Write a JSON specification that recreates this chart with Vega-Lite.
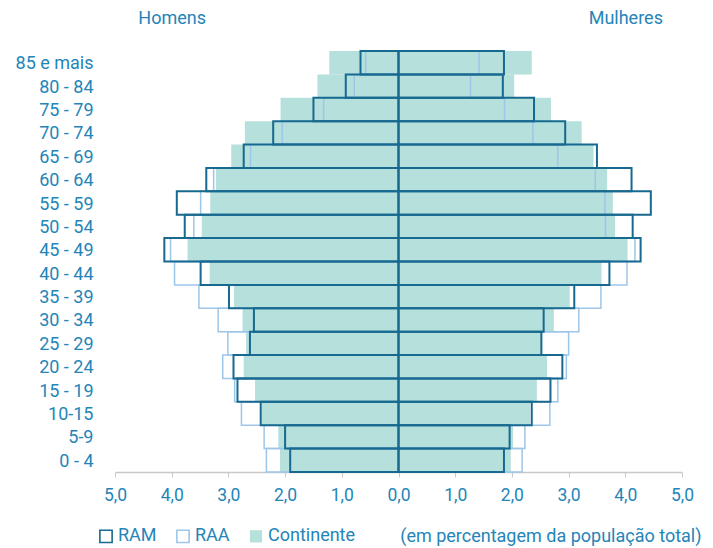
{
  "$schema": "https://vega.github.io/schema/vega-lite/v6.json",
  "width": 567,
  "height": 421,
  "autosize": {"type": "none"},
  "padding": {"left": 115, "top": 51, "right": 31, "bottom": 76},
  "background": "white",
  "config": {
    "font": "Roboto",
    "view": {"stroke": null},
    "axis": {"labelColor": "#2485b8", "titleColor": "#2485b8", "grid": false}
  },
  "data": {
    "values": [
      {"age": "85 e mais", "sexo": "Homens", "Continente": -1.22, "RAA": -0.58, "RAM": -0.67},
      {"age": "80 - 84", "sexo": "Homens", "Continente": -1.43, "RAA": -0.78, "RAM": -0.93},
      {"age": "75 - 79", "sexo": "Homens", "Continente": -2.08, "RAA": -1.32, "RAM": -1.50},
      {"age": "70 - 74", "sexo": "Homens", "Continente": -2.71, "RAA": -2.05, "RAM": -2.21},
      {"age": "65 - 69", "sexo": "Homens", "Continente": -2.95, "RAA": -2.61, "RAM": -2.73},
      {"age": "60 - 64", "sexo": "Homens", "Continente": -3.22, "RAA": -3.26, "RAM": -3.39},
      {"age": "55 - 59", "sexo": "Homens", "Continente": -3.32, "RAA": -3.49, "RAM": -3.91},
      {"age": "50 - 54", "sexo": "Homens", "Continente": -3.47, "RAA": -3.61, "RAM": -3.77},
      {"age": "45 - 49", "sexo": "Homens", "Continente": -3.72, "RAA": -4.02, "RAM": -4.13},
      {"age": "40 - 44", "sexo": "Homens", "Continente": -3.33, "RAA": -3.95, "RAM": -3.49},
      {"age": "35 - 39", "sexo": "Homens", "Continente": -2.90, "RAA": -3.52, "RAM": -2.99},
      {"age": "30 - 34", "sexo": "Homens", "Continente": -2.75, "RAA": -3.18, "RAM": -2.55},
      {"age": "25 - 29", "sexo": "Homens", "Continente": -2.69, "RAA": -3.01, "RAM": -2.62},
      {"age": "20 - 24", "sexo": "Homens", "Continente": -2.73, "RAA": -3.10, "RAM": -2.91},
      {"age": "15 - 19", "sexo": "Homens", "Continente": -2.53, "RAA": -2.89, "RAM": -2.84},
      {"age": "10-15", "sexo": "Homens", "Continente": -2.41, "RAA": -2.77, "RAM": -2.43},
      {"age": "5-9", "sexo": "Homens", "Continente": -2.12, "RAA": -2.37, "RAM": -2.00},
      {"age": "0 - 4", "sexo": "Homens", "Continente": -2.09, "RAA": -2.33, "RAM": -1.91},
      {"age": "85 e mais", "sexo": "Mulheres", "Continente": 2.35, "RAA": 1.42, "RAM": 1.86},
      {"age": "80 - 84", "sexo": "Mulheres", "Continente": 2.04, "RAA": 1.27, "RAM": 1.84},
      {"age": "75 - 79", "sexo": "Mulheres", "Continente": 2.69, "RAA": 1.87, "RAM": 2.39},
      {"age": "70 - 74", "sexo": "Mulheres", "Continente": 3.23, "RAA": 2.37, "RAM": 2.94},
      {"age": "65 - 69", "sexo": "Mulheres", "Continente": 3.44, "RAA": 2.81, "RAM": 3.50},
      {"age": "60 - 64", "sexo": "Mulheres", "Continente": 3.68, "RAA": 3.47, "RAM": 4.11},
      {"age": "55 - 59", "sexo": "Mulheres", "Continente": 3.78, "RAA": 3.64, "RAM": 4.45},
      {"age": "50 - 54", "sexo": "Mulheres", "Continente": 3.82, "RAA": 3.65, "RAM": 4.13},
      {"age": "45 - 49", "sexo": "Mulheres", "Continente": 4.04, "RAA": 4.17, "RAM": 4.27},
      {"age": "40 - 44", "sexo": "Mulheres", "Continente": 3.58, "RAA": 4.03, "RAM": 3.72},
      {"age": "35 - 39", "sexo": "Mulheres", "Continente": 3.02, "RAA": 3.57, "RAM": 3.10},
      {"age": "30 - 34", "sexo": "Mulheres", "Continente": 2.74, "RAA": 3.18, "RAM": 2.56},
      {"age": "25 - 29", "sexo": "Mulheres", "Continente": 2.53, "RAA": 3.00, "RAM": 2.52},
      {"age": "20 - 24", "sexo": "Mulheres", "Continente": 2.62, "RAA": 2.96, "RAM": 2.89},
      {"age": "15 - 19", "sexo": "Mulheres", "Continente": 2.44, "RAA": 2.81, "RAM": 2.68},
      {"age": "10-15", "sexo": "Mulheres", "Continente": 2.32, "RAA": 2.67, "RAM": 2.35},
      {"age": "5-9", "sexo": "Mulheres", "Continente": 2.02, "RAA": 2.23, "RAM": 1.96},
      {"age": "0 - 4", "sexo": "Mulheres", "Continente": 1.98, "RAA": 2.18, "RAM": 1.86}
    ]
  },
  "transform": [{"fold": ["RAM", "RAA", "Continente"], "as": ["serie", "v"]}],
  "encoding": {
    "y": {
      "field": "age",
      "type": "nominal",
      "sort": ["85 e mais", "80 - 84", "75 - 79", "70 - 74", "65 - 69", "60 - 64", "55 - 59", "50 - 54", "45 - 49", "40 - 44", "35 - 39", "30 - 34", "25 - 29", "20 - 24", "15 - 19", "10-15", "5-9", "0 - 4"],
      "scale": {"paddingInner": 0, "paddingOuter": 0},
      "axis": {"title": null, "ticks": false, "domain": false, "labelPadding": 22, "labelFontSize": 18, "labelOffset": 1.5, "labelColor": "#2485b8"}
    },
    "fill": {
      "field": "serie",
      "type": "nominal",
      "scale": {"domain": ["RAM", "RAA", "Continente"], "range": ["transparent", "transparent", "#b5e0dc"]},
      "legend": {
        "title": null,
        "orient": "none",
        "direction": "horizontal",
        "legendX": -18,
        "legendY": 476,
        "symbolType": "square",
        "symbolSize": 150,
        "symbolStrokeWidth": 1.6,
        "labelFontSize": 18,
        "labelColor": "#2485b8",
        "labelOffset": 3,
        "columnPadding": 16
      }
    },
    "stroke": {
      "field": "serie",
      "type": "nominal",
      "scale": {"domain": ["RAM", "RAA", "Continente"], "range": ["#17698f", "#9ec6e8", "transparent"]},
      "legend": {
        "title": null,
        "orient": "none",
        "direction": "horizontal",
        "legendX": -18,
        "legendY": 476,
        "symbolType": "square",
        "symbolSize": 150,
        "symbolStrokeWidth": 1.6,
        "labelFontSize": 18,
        "labelColor": "#2485b8",
        "labelOffset": 3,
        "columnPadding": 16
      }
    }
  },
  "resolve": {"axis": {"x": "independent"}},
  "layer": [
    {
      "transform": [{"filter": "datum.serie === 'Continente'"}],
      "mark": {"type": "bar", "strokeWidth": 0},
      "encoding": {
        "x": {
          "field": "v",
          "type": "quantitative",
          "scale": {"domain": [-5, 5], "nice": false},
          "axis": {
            "orient": "bottom",
            "values": [-5, -4, -3, -2, -1, 0, 1, 2, 3, 4, 5],
            "labelExpr": "replace(format(abs(datum.value), '.1f'), '.', ',')",
            "labelFlush": false,
            "labelOverlap": false,
            "labelFontSize": 17.5,
            "labelPadding": 9,
            "tickSize": 5,
            "tickColor": "#c8c8c8",
            "domainColor": "#c8c8c8",
            "domainWidth": 1.5,
            "title": "(em percentagem da população total)",
            "titleFontSize": 18,
            "titleFontWeight": "normal",
            "titleAlign": "right",
            "titleAnchor": null,
            "titleBaseline": "middle",
            "titleX": 586,
            "titleY": 64
          }
        },
        "x2": {"datum": 0}
      }
    },
    {
      "transform": [{"filter": "datum.serie === 'RAA'"}],
      "mark": {"type": "bar", "strokeWidth": 1.5},
      "encoding": {
        "x": {
          "field": "v",
          "type": "quantitative",
          "axis": {
            "orient": "top",
            "values": [-4, 4],
            "labelExpr": "datum.value < 0 ? 'Homens' : 'Mulheres'",
            "labelFlush": false,
            "labelFontSize": 18,
            "labelPadding": 24,
            "ticks": false,
            "domain": false,
            "title": null
          }
        },
        "x2": {"datum": 0}
      }
    },
    {
      "transform": [{"filter": "datum.serie === 'RAM'"}],
      "mark": {"type": "bar", "strokeWidth": 2},
      "encoding": {
        "x": {"field": "v", "type": "quantitative", "axis": null},
        "x2": {"datum": 0}
      }
    }
  ]
}
